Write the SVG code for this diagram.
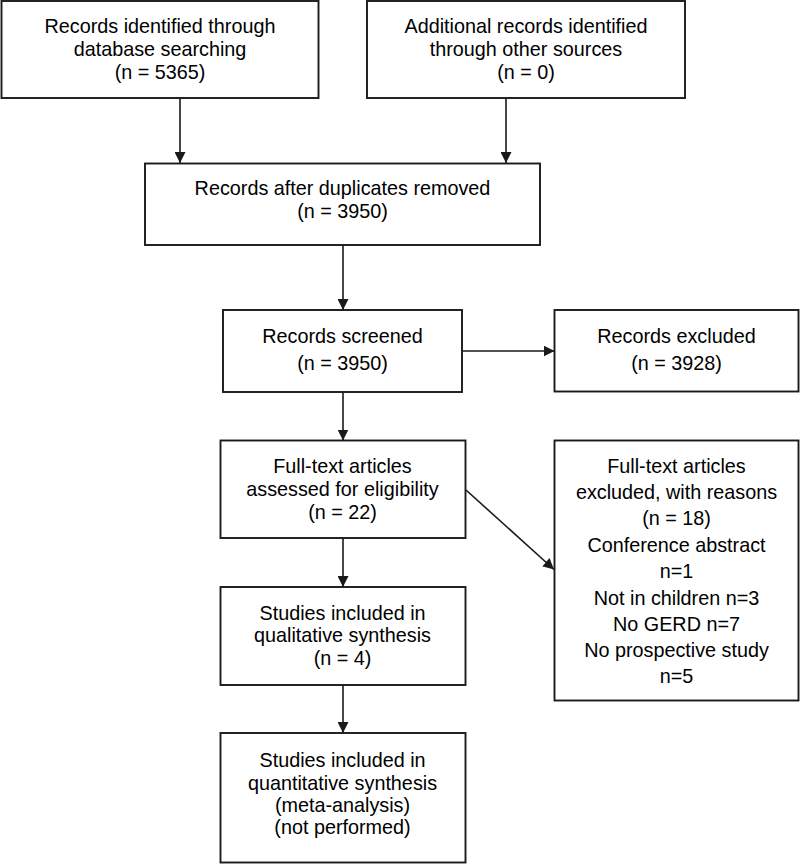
<svg xmlns="http://www.w3.org/2000/svg" width="800" height="865" viewBox="0 0 800 865">
<style>
.box{fill:#fff;stroke:#1a1a1a;stroke-width:1.9}
.t{font-family:"Liberation Sans",Arial,sans-serif;font-size:19.8px;fill:#000;text-anchor:middle}
.c{stroke:#1a1a1a;stroke-width:1.6;fill:none;marker-end:url(#ah)}
</style>
<defs>
<marker id="ah" markerUnits="userSpaceOnUse" markerWidth="11" markerHeight="11" refX="11" refY="5.5" orient="auto" viewBox="0 0 11 11">
<path d="M0,0 L11,5.5 L0,11 z" fill="#1a1a1a"/>
</marker>
</defs>
<rect width="800" height="865" fill="#fff"/>
<g id="connectors">
<line class="c" x1="180" y1="98" x2="180" y2="163"/>
<line class="c" x1="506" y1="98" x2="506" y2="163"/>
<line class="c" x1="343" y1="245" x2="343" y2="310"/>
<line class="c" x1="462" y1="351" x2="554.5" y2="351"/>
<line class="c" x1="343" y1="392" x2="343" y2="440.5"/>
<line class="c" x1="466" y1="490" x2="554" y2="569.5"/>
<line class="c" x1="343" y1="538" x2="343" y2="587"/>
<line class="c" x1="343" y1="685" x2="343" y2="733"/>
</g>
<g id="n1">
<rect class="box" x="1.5" y="1" width="317" height="97"/>
<text class="t" x="160" y="33">Records identified through</text>
<text class="t" x="160" y="56">database searching</text>
<text class="t" x="160" y="79">(n = 5365)</text>
</g>
<g id="n2">
<rect class="box" x="367" y="1" width="318" height="97"/>
<text class="t" x="526" y="33">Additional records identified</text>
<text class="t" x="526" y="56">through other sources</text>
<text class="t" x="526" y="79">(n = 0)</text>
</g>
<g id="n3">
<rect class="box" x="145" y="163.5" width="395" height="81.5"/>
<text class="t" x="342.5" y="195">Records after duplicates removed</text>
<text class="t" x="342.5" y="218">(n = 3950)</text>
</g>
<g id="n4">
<rect class="box" x="223" y="310" width="239" height="82"/>
<text class="t" x="342.5" y="343">Records screened</text>
<text class="t" x="342.5" y="369.5">(n = 3950)</text>
</g>
<g id="n5">
<rect class="box" x="554.5" y="310" width="244" height="81.5"/>
<text class="t" x="676.5" y="343">Records excluded</text>
<text class="t" x="676.5" y="369.5">(n = 3928)</text>
</g>
<g id="n6">
<rect class="box" x="220.5" y="440.5" width="245" height="97.5"/>
<text class="t" x="342.5" y="473">Full-text articles</text>
<text class="t" x="342.5" y="495.5">assessed for eligibility</text>
<text class="t" x="342.5" y="518.5">(n = 22)</text>
</g>
<g id="n7">
<rect class="box" x="554.5" y="440.5" width="244" height="260"/>
<text class="t" x="676.5" y="473">Full-text articles</text>
<text class="t" x="676.5" y="498.5">excluded, with reasons</text>
<text class="t" x="676.5" y="525">(n = 18)</text>
<text class="t" x="676.5" y="551.5">Conference abstract</text>
<text class="t" x="676.5" y="578">n=1</text>
<text class="t" x="676.5" y="604.5">Not in children n=3</text>
<text class="t" x="676.5" y="630.5">No GERD n=7</text>
<text class="t" x="676.5" y="656.5">No prospective study</text>
<text class="t" x="676.5" y="682.5">n=5</text>
</g>
<g id="n8">
<rect class="box" x="220.5" y="587" width="245" height="98"/>
<text class="t" x="342.5" y="619.5">Studies included in</text>
<text class="t" x="342.5" y="642">qualitative synthesis</text>
<text class="t" x="342.5" y="665">(n = 4)</text>
</g>
<g id="n9">
<rect class="box" x="220.5" y="733" width="245" height="129.5"/>
<text class="t" x="342.5" y="767">Studies included in</text>
<text class="t" x="342.5" y="789.5">quantitative synthesis</text>
<text class="t" x="342.5" y="811.5">(meta-analysis)</text>
<text class="t" x="342.5" y="834">(not performed)</text>
</g>
</svg>
